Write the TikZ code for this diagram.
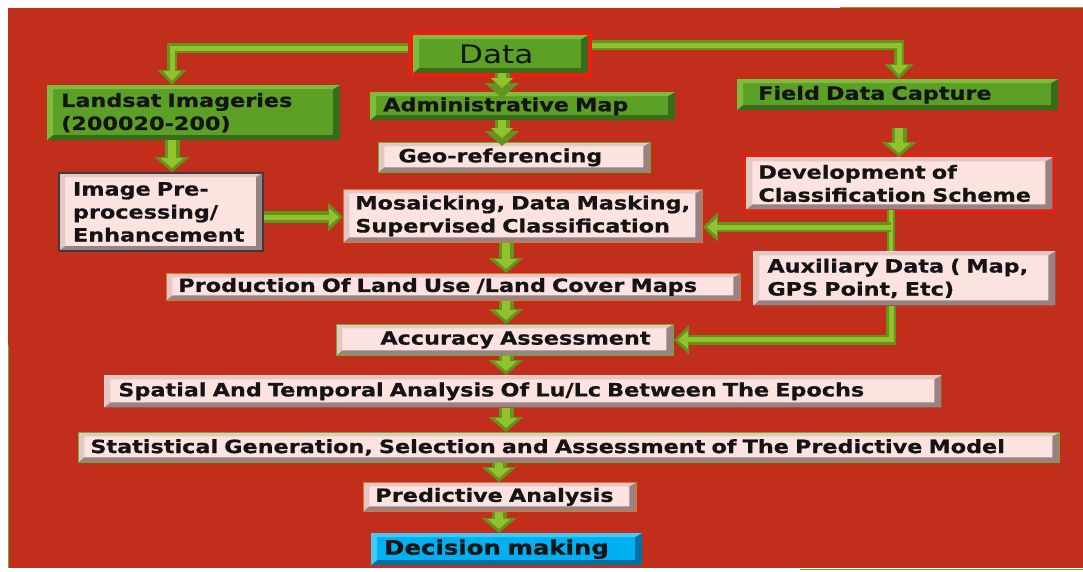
\documentclass[tikz,border=0pt]{standalone}
\usepackage{fontspec}
\setmainfont{DejaVu Sans}[FakeStretch=1.22, BoldFeatures={FakeBold=0.7}]
\usetikzlibrary{arrows.meta}

\definecolor{bgred}{RGB}{193,46,27}
\definecolor{boxgreen}{RGB}{92,160,38}
\definecolor{greenlite}{RGB}{126,188,62}
\definecolor{greendark}{RGB}{56,108,26}
\definecolor{boxpink}{RGB}{252,227,223}
\definecolor{pinklite}{RGB}{228,200,198}
\definecolor{pinkdark}{RGB}{152,130,130}
\definecolor{boxblue}{RGB}{0,176,240}
\definecolor{bluelite}{RGB}{70,200,245}
\definecolor{bluedark}{RGB}{0,112,165}
\definecolor{arrowgreen}{RGB}{98,148,30}
\definecolor{arrowlite}{RGB}{146,194,46}
\definecolor{glowred}{RGB}{240,28,18}
\definecolor{edgeorange}{RGB}{232,112,40}
\definecolor{edgegreen}{RGB}{112,172,40}
\definecolor{edgegray}{RGB}{60,60,60}

\tikzset{
  bevel/.style 2 args={path picture={
    \fill[#1] (path picture bounding box.south west) -- (path picture bounding box.north west)
      -- (path picture bounding box.north east) -- ([xshift=-7pt,yshift=-4pt]path picture bounding box.north east)
      -- ([xshift=6pt,yshift=-4pt]path picture bounding box.north west)
      -- ([xshift=6pt,yshift=5pt]path picture bounding box.south west) -- cycle;
    \fill[#2] (path picture bounding box.south west) -- (path picture bounding box.south east)
      -- (path picture bounding box.north east) -- ([xshift=-7pt,yshift=-4pt]path picture bounding box.north east)
      -- ([xshift=-7pt,yshift=5pt]path picture bounding box.south east)
      -- ([xshift=6pt,yshift=5pt]path picture bounding box.south west) -- cycle;
  }},
  box/.style n args={3}{anchor=north west, inner sep=0pt, minimum width=#1pt, minimum height=#2pt,
    text width=#1pt, align=left, execute at begin node={\leftskip=#3pt}},
  boxtext/.style={font=\fontsize{18.3}{23}\selectfont\bfseries, text=black!92},
  greenbox/.style={boxtext, fill=boxgreen, bevel={greenlite}{greendark}},
  pinkbox/.style={boxtext, fill=boxpink, bevel={pinklite}{pinkdark}, draw=edgeorange, line width=0.8pt},
  bluebox/.style={boxtext, fill=boxblue, bevel={bluelite}{bluedark}},
  glow/.style={draw=glowred, line width=4pt},
  flow/.style={draw=arrowgreen, line width=15pt, -{Triangle[length=15pt,width=34pt]},
    postaction={draw=arrowlite, line width=8pt, shorten >=4pt, -{Triangle[length=10pt,width=22pt]}}},
  flowthin/.style={draw=arrowgreen, line width=10pt, -{Triangle[length=15pt,width=28pt]},
    postaction={draw=arrowlite, line width=5pt, shorten >=4pt, -{Triangle[length=10pt,width=17pt]}}},
  bar/.style={draw=arrowgreen, line width=8pt, postaction={draw=arrowlite, line width=4pt}},
}

\begin{document}
\begin{tikzpicture}[x=1pt,y=-1pt]
  \useasboundingbox (0,0) rectangle (1083,571);
  \fill[bgred] (8,8) rectangle (1083,568);
  \draw[edgegreen, line width=1pt] (840,7) -- (1083,7);
  \draw[edgegreen, line width=1pt] (8,345) -- (8,568);
  \draw[edgegreen, line width=1pt] (800,569) -- (1083,569);

  % boxes
  \node[greenbox, box={175}{38}{46}, font=\fontsize{25.5}{30}\selectfont\mdseries] (data) at (413,35) {Data};
  \node[greenbox, box={293}{55}{14}] (land) at (47,85) {Landsat Imageries\\(200020-200)};
  \node[greenbox, box={305}{28}{13}] (admin) at (370,92) {Administrative Map};
  \node[greenbox, box={321}{31}{21}] (field) at (737,79) {Field Data Capture};
  \node[pinkbox, draw=edgegreen, box={272}{30}{20}] (geo) at (378,142) {Geo-referencing};
  \node[pinkbox, draw=edgegray, line width=2pt, box={204}{78}{14}] (image) at (58,172)
    {Image Pre-\\processing/\\Enhancement};
  \node[pinkbox, draw=none, box={306}{52}{12}] (dev) at (746,157)
    {Development of\\Classification Scheme};
  \node[pinkbox, box={359}{53}{12}] (mosaic) at (343,189)
    {Mosaicking, Data Masking,\\Supervised Classification};
  \node[pinkbox, draw=none, box={302}{54}{14}] (aux) at (753,251)
    {Auxiliary Data ( Map,\\GPS Point, Etc)};
  \node[pinkbox, box={574}{27}{12}] (prod) at (166,273) {Production Of Land Use /Land Cover Maps};
  \node[pinkbox, draw=edgegreen, box={337}{31}{44}] (acc) at (336,324) {Accuracy Assessment};
  \node[pinkbox, draw=none, box={837}{32}{14}] (spatial) at (104,375)
    {Spatial And Temporal Analysis Of Lu/Lc Between The Epochs};
  \node[pinkbox, draw=edgegreen, box={981}{30}{12}] (stat) at (78,432)
    {Statistical Generation, Selection and Assessment of The Predictive Model};
  \node[pinkbox, box={273}{29}{12}] (pred) at (363,482) {Predictive Analysis};
  \node[bluebox, box={271}{32}{13}, font=\fontsize{20}{24}\selectfont\bfseries] (dec) at (371,533) {Decision making};

  % red halos
  \draw[glow] ([shift={(-2pt,2pt)}]data.north west) rectangle ([shift={(2pt,-2pt)}]data.south east);
  \draw[glow, line width=3pt, opacity=.8] ([shift={(-1.5pt,1.5pt)}]dev.north west) rectangle ([shift={(1.5pt,-1.5pt)}]dev.south east);

  % arrows
  \coordinate (lx) at (172,0);
  \coordinate (dx) at (502,0);
  \coordinate (fx) at (899,0);
  \coordinate (vx) at (891,0);
  \coordinate (cx) at (506,0);
  \coordinate (px) at (499,0);
  \coordinate (im) at ([yshift=-5pt]image.east);
  \coordinate (dm) at (891,227);

  \draw[flowthin] ([xshift=-5pt,yshift=6pt]data.west) -| (lx |- land.north);
  \draw[flowthin] ([xshift=4pt,yshift=9pt]data.east) -| (fx |- field.north);
  \draw[flow, shorten >=-6pt] (dx |- data.south) -- (dx |- admin.north);
  \draw[flow, shorten >=-4pt] (dx |- admin.south) -- (dx |- geo.north);
  \draw[flow] (lx |- land.south) -- (lx |- image.north);
  \draw[flowthin, line width=12pt] (im) -- (im -| mosaic.west);
  \draw[flow] (fx |- field.south) ++(0,18) -- (fx |- dev.north);
  \draw[bar] (vx |- dev.south) -- (vx |- aux.north);
  \draw[flowthin] (dm) -- (dm -| mosaic.east);
  \draw[flowthin] (vx |- aux.south) |- (acc.east);

  \draw[flow] (cx |- mosaic.south) -- (cx |- prod.north);
  \draw[flow] (cx |- prod.south) -- (cx |- acc.north);
  \draw[flow] (cx |- acc.south) -- (cx |- spatial.north);
  \draw[flow] (cx |- spatial.south) -- (cx |- stat.north);
  \draw[flow] (px |- stat.south) -- (px |- pred.north);
  \draw[flow] (px |- pred.south) -- (px |- dec.north);
\end{tikzpicture}
\end{document}
